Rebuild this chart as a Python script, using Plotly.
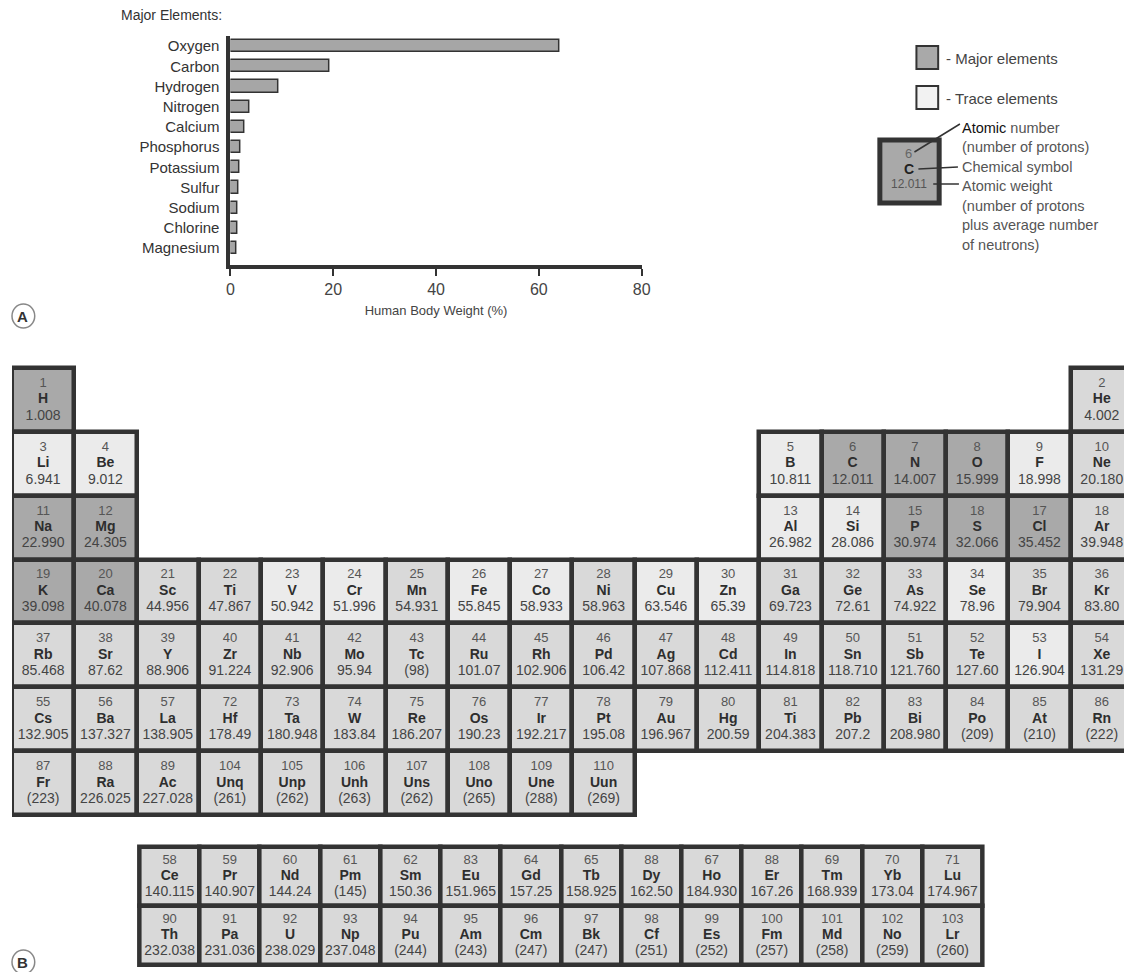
import plotly.graph_objects as go

# the page body has an 8px margin, so figure pixels = page pixels - 8
OFF = 8
W, H = 1133 - OFF, 972 - OFF
FONT = "Liberation Sans, Arial, sans-serif"
DARK = "#333333"

# ---- panel A data ----
major_names = ["Oxygen", "Carbon", "Hydrogen", "Nitrogen", "Calcium", "Phosphorus",
               "Potassium", "Sulfur", "Sodium", "Chlorine", "Magnesium"]
major_pct = [64.0, 19.3, 9.4, 3.7, 2.7, 2.0, 1.8, 1.6, 1.3, 1.3, 1.1]

# ---- panel B data (main table) ----
symbols = ["H", "He",
           "Li", "Be", "B", "C", "N", "O", "F", "Ne",
           "Na", "Mg", "Al", "Si", "P", "S", "Cl", "Ar",
           "K", "Ca", "Sc", "Ti", "V", "Cr", "Mn", "Fe", "Co", "Ni", "Cu", "Zn", "Ga", "Ge", "As", "Se", "Br", "Kr",
           "Rb", "Sr", "Y", "Zr", "Nb", "Mo", "Tc", "Ru", "Rh", "Pd", "Ag", "Cd", "In", "Sn", "Sb", "Te", "I", "Xe",
           "Cs", "Ba", "La", "Hf", "Ta", "W", "Re", "Os", "Ir", "Pt", "Au", "Hg", "Ti", "Pb", "Bi", "Po", "At", "Rn",
           "Fr", "Ra", "Ac", "Unq", "Unp", "Unh", "Uns", "Uno", "Une", "Uun"]
numbers = ["1", "2",
           "3", "4", "5", "6", "7", "8", "9", "10",
           "11", "12", "13", "14", "15", "18", "17", "18",
           "19", "20", "21", "22", "23", "24", "25", "26", "27", "28", "29", "30", "31", "32", "33", "34", "35", "36",
           "37", "38", "39", "40", "41", "42", "43", "44", "45", "46", "47", "48", "49", "50", "51", "52", "53", "54",
           "55", "56", "57", "72", "73", "74", "75", "76", "77", "78", "79", "80", "81", "82", "83", "84", "85", "86",
           "87", "88", "89", "104", "105", "106", "107", "108", "109", "110"]
weights = ["1.008", "4.002",
           "6.941", "9.012", "10.811", "12.011", "14.007", "15.999", "18.998", "20.180",
           "22.990", "24.305", "26.982", "28.086", "30.974", "32.066", "35.452", "39.948",
           "39.098", "40.078", "44.956", "47.867", "50.942", "51.996", "54.931", "55.845", "58.933", "58.963",
           "63.546", "65.39", "69.723", "72.61", "74.922", "78.96", "79.904", "83.80",
           "85.468", "87.62", "88.906", "91.224", "92.906", "95.94", "(98)", "101.07", "102.906", "106.42",
           "107.868", "112.411", "114.818", "118.710", "121.760", "127.60", "126.904", "131.29",
           "132.905", "137.327", "138.905", "178.49", "180.948", "183.84", "186.207", "190.23", "192.217",
           "195.08", "196.967", "200.59", "204.383", "207.2", "208.980", "(209)", "(210)", "(222)",
           "(223)", "226.025", "227.028", "(261)", "(262)", "(263)", "(262)", "(265)", "(288)", "(269)"]
groups = ([1, 18] + [1, 2] + list(range(13, 19)) + [1, 2] + list(range(13, 19))
          + list(range(1, 19)) * 3 + list(range(1, 11)))
periods = [1] * 2 + [2] * 8 + [3] * 8 + [4] * 18 + [5] * 18 + [6] * 18 + [7] * 10

# ---- f-block ----
f_symbols = ["Ce", "Pr", "Nd", "Pm", "Sm", "Eu", "Gd", "Tb", "Dy", "Ho", "Er", "Tm", "Yb", "Lu",
             "Th", "Pa", "U", "Np", "Pu", "Am", "Cm", "Bk", "Cf", "Es", "Fm", "Md", "No", "Lr"]
f_numbers = ["58", "59", "60", "61", "62", "83", "64", "65", "88", "67", "88", "69", "70", "71",
             "90", "91", "92", "93", "94", "95", "96", "97", "98", "99", "100", "101", "102", "103"]
f_weights = ["140.115", "140.907", "144.24", "(145)", "150.36", "151.965", "157.25", "158.925",
             "162.50", "184.930", "167.26", "168.939", "173.04", "174.967",
             "232.038", "231.036", "238.029", "237.048", "(244)", "(243)", "(247)", "(247)",
             "(251)", "(252)", "(257)", "(258)", "(259)", "(260)"]
f_cols = list(range(1, 15)) * 2
f_rows = [1] * 14 + [2] * 14

major_set = ["H", "C", "N", "O", "Na", "Mg", "P", "S", "Cl", "K", "Ca"]
trace_set = ["B", "F", "Al", "Si", "V", "Cr", "Fe", "Co", "Cu", "Zn", "Se", "I", "Li", "Be"]

COL_MAJOR, COL_TRACE, COL_OTHER = "#a9a9a9", "#ebebeb", "#d9d9d9"


def fill_for(sym):
    if sym in major_set:
        return COL_MAJOR
    if sym in trace_set:
        return COL_TRACE
    return COL_OTHER


def px_x(p):
    return min(max((p - OFF) / W, 0), 1)


def px_y(p):
    return min(max(1 - (p - OFF) / H, 0), 1)


def cell_text(xs, ys, num, sym, wt, xa, ya, dy):
    # three stacked text rows: atomic number / symbol / weight
    out = []
    for t, off, size, col in ((num, -dy, 13, "#555555"),
                              (["<b>" + s + "</b>" for s in sym], 0, 14, "#2e2e2e"),
                              (wt, dy, 14, "#444444")):
        out.append(go.Scatter(x=xs, y=[y + off for y in ys], mode="text", text=t,
                              textfont=dict(family=FONT, size=size, color=col),
                              xaxis=xa, yaxis=ya, showlegend=False, hoverinfo="skip"))
    return out


fig = go.Figure()

# panel A bars
fig.add_trace(go.Bar(x=major_pct, y=major_names, orientation="h", width=0.6,
                     marker=dict(color="#a6a6a6", line=dict(color=DARK, width=1.5)),
                     xaxis="x", yaxis="y", showlegend=False, hoverinfo="skip"))

# panel B main cells
fig.add_trace(go.Bar(x=groups, y=[1] * len(groups), base=[p - 0.5 for p in periods], width=1,
                     marker=dict(color=[fill_for(s) for s in symbols], line=dict(color=DARK, width=4.5)),
                     xaxis="x2", yaxis="y2", showlegend=False, hoverinfo="skip"))
fig.add_traces(cell_text(groups, periods, numbers, symbols, weights, "x2", "y2", 0.255))

# f-block cells
fig.add_trace(go.Bar(x=f_cols, y=[1] * len(f_cols), base=[r - 0.5 for r in f_rows], width=1,
                     marker=dict(color=COL_OTHER, line=dict(color=DARK, width=4.5)),
                     xaxis="x3", yaxis="y3", showlegend=False, hoverinfo="skip"))
fig.add_traces(cell_text(f_cols, f_rows, f_numbers, f_symbols, f_weights, "x3", "y3", 0.27))

# ---- axes geometry (page pixels) ----
ax_l, ax_r, ax_t, ax_b = 229, 645, 36, 265
sx, x0px = 63.0, 8
sy, y0px = 63.86, 368
mt_l, mt_r, mt_t, mt_b = OFF, OFF + W, 362, 821
fsx, fx0 = 60.93, 137
fsy, fy0 = 59.0, 847
fb_l, fb_r, fb_t, fb_b = 131, 996, 841, OFF + H

no_grid = dict(showgrid=False, zeroline=False, showticklabels=False, ticks="", showline=False,
               fixedrange=True)

fig.update_layout(
    width=W, height=H, margin=dict(l=0, r=0, t=0, b=0),
    paper_bgcolor="white", plot_bgcolor="rgba(0,0,0,0)",
    font=dict(family=FONT, color=DARK), barmode="overlay", bargap=0,
    xaxis=dict(domain=[px_x(ax_l), px_x(ax_r)], range=[0, 80], tickvals=[0, 20, 40, 60, 80],
               showgrid=False, zeroline=False, showline=True, linewidth=4, linecolor=DARK,
               ticks="outside", ticklen=7, tickwidth=2, tickcolor=DARK,
               tickfont=dict(size=16, color="#444444"),
               title=dict(text="Human Body Weight (%)", font=dict(size=13, color="#444444"), standoff=10),
               anchor="y"),
    yaxis=dict(domain=[px_y(ax_b), px_y(ax_t)], range=[10.84, -0.5], type="category",
               showgrid=False, zeroline=False, showline=True, linewidth=4, linecolor=DARK,
               ticks="", tickfont=dict(size=15, color="#333333"), ticklabelstandoff=4, anchor="x"),
    xaxis2=dict(domain=[px_x(mt_l), px_x(mt_r)],
                range=[0.5 - (x0px - mt_l) / sx, 0.5 + (mt_r - x0px) / sx], anchor="y2", **no_grid),
    yaxis2=dict(domain=[px_y(mt_b), px_y(mt_t)],
                range=[0.5 + (mt_b - y0px) / sy, 0.5 - (y0px - mt_t) / sy], anchor="x2", **no_grid),
    xaxis3=dict(domain=[px_x(fb_l), px_x(fb_r)],
                range=[0.5 - (fx0 - fb_l) / fsx, 0.5 + (fb_r - fx0) / fsx], anchor="y3", **no_grid),
    yaxis3=dict(domain=[px_y(fb_b), px_y(fb_t)],
                range=[0.5 + (fb_b - fy0) / fsy, 0.5 - (fy0 - fb_t) / fsy], anchor="x3", **no_grid),
)

# ---- annotations and legend decoration ----
ann = []
shapes = []


def text_at(x, y, t, size=14, color="#333333", xanchor="left"):
    ann.append(dict(x=px_x(x), y=px_y(y), xref="paper", yref="paper", text=t, showarrow=False,
                    xanchor=xanchor, yanchor="middle", font=dict(size=size, color=color, family=FONT)))


def rect(x0, y0, x1, y1, fill, lw, color=DARK):
    shapes.append(dict(type="rect", xref="paper", yref="paper", x0=px_x(x0), x1=px_x(x1),
                       y0=px_y(y1), y1=px_y(y0), fillcolor=fill, line=dict(color=color, width=lw)))


def seg(x0, y0, x1, y1, lw=1.5):
    shapes.append(dict(type="line", xref="paper", yref="paper", x0=px_x(x0), x1=px_x(x1),
                       y0=px_y(y0), y1=px_y(y1), line=dict(color=DARK, width=lw)))


def circle_label(cx, cy, t):
    shapes.append(dict(type="circle", xref="paper", yref="paper", x0=px_x(cx - 12), x1=px_x(cx + 12),
                       y0=(1 - (cy + 12 - OFF) / H), y1=px_y(cy - 12), line=dict(color="#888888", width=1.5)))
    text_at(cx, cy, f"<b>{t}</b>", size=15, color="#333333", xanchor="center")


text_at(116, 15, "Major Elements:", size=14)

# legend boxes (shifted a few px right)
LX = 5
rect(918 + LX, 46, 940 + LX, 69, COL_MAJOR, 2)
text_at(946 + LX, 58, "- Major elements", size=15, color="#444444")
rect(918 + LX, 86, 940 + LX, 109, "#f2f2f2", 2)
text_at(946 + LX, 98, "- Trace elements", size=15, color="#444444")

# sample cell
rect(881 + LX, 140, 941 + LX, 203, COL_MAJOR, 5)
text_at(910 + LX, 153, "6", size=13, color="#666666", xanchor="center")
text_at(910 + LX, 169, "<b>C</b>", size=14, color="#222222", xanchor="center")
text_at(910 + LX, 184, "12.011", size=12, color="#555555", xanchor="center")
seg(916 + LX, 152, 962 + LX, 124)
seg(920 + LX, 169, 960 + LX, 167)
seg(935 + LX, 184, 961 + LX, 184)
text_at(962 + LX, 128, "<span style='color:#111111'>Atomic</span> number", size=14.5, color="#555555")
text_at(962 + LX, 147, "(number of protons)", size=14.5, color="#555555")
text_at(962 + LX, 167, "Chemical symbol", size=14.5, color="#555555")
text_at(962 + LX, 186, "Atomic weight", size=14.5, color="#555555")
text_at(962 + LX, 206, "(number of protons", size=14.5, color="#555555")
text_at(962 + LX, 225, "plus average number", size=14.5, color="#555555")
text_at(962 + LX, 245, "of neutrons)", size=14.5, color="#555555")

circle_label(19, 316, "A")
circle_label(19, 962, "B")

fig.update_layout(annotations=ann, shapes=shapes)

fig.write_html("out.html")
